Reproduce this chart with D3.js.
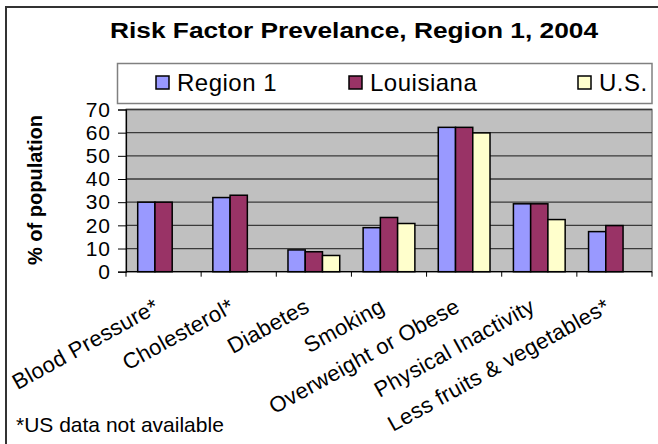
<!DOCTYPE html>
<html>
<head>
<meta charset="utf-8">
<script src="https://cdn.jsdelivr.net/npm/d3@7"></script>
<style>
  body { margin: 0; background: #fff; }
  text { font-family: "Liberation Sans", Arial, sans-serif; fill: #000; }
</style>
</head>
<body>
<div id="chart"></div>
<script>
// data
const categories = ["Blood Pressure*", "Cholesterol*", "Diabetes", "Smoking", "Overweight or Obese", "Physical Inactivity", "Less fruits & vegetables*"]
const series = ["Region 1", "Louisiana", "U.S."]
const region1 = [30, 32, 9.4, 19, 62.3, 29.3, 17.3]
const louisiana = [30, 33, 8.6, 23.4, 62.3, 29.3, 19.9]
const us = [null, null, 7, 20.8, 59.9, 22.5, null]
const yTicks = [0, 10, 20, 30, 40, 50, 60, 70]
const colors = ["#9999ff", "#993366", "#ffffcc"]

const width = 658
const height = 444
const plot = { left: 126, right: 652, top: 109.5, bottom: 271.7 }

const svg = d3.select("#chart")
    .append("svg")
    .attr("width", width)
    .attr("height", height)

// outer border (only top and left show)
svg.append("path")
    .attr("d", `M6,${height} V7 H${width}`)
    .attr("fill", "none")
    .attr("stroke", "#333")
    .attr("stroke-width", 2)

svg.append("text")
    .attr("x", 110)
    .attr("y", 37.5)
    .attr("font-weight", "bold")
    .attr("font-size", 22)
    .attr("textLength", 488)
    .attr("lengthAdjust", "spacingAndGlyphs")
    .text("Risk Factor Prevelance, Region 1, 2004")

const x0 = d3.scaleBand().domain(categories).range([plot.left, plot.right])
const x1 = d3.scaleBand().domain(series).range([11.7, x0.bandwidth() - 11.7])
const y = d3.scaleLinear().domain([0, 70]).range([plot.bottom, plot.top])

// plot area
svg.append("rect")
    .attr("x", plot.left)
    .attr("y", plot.top)
    .attr("width", plot.right - plot.left)
    .attr("height", plot.bottom - plot.top)
    .attr("fill", "#c0c0c0")
    .attr("stroke", "#808080")
    .attr("stroke-width", 1.5)

svg.append("g")
    .selectAll("line")
    .data(yTicks.slice(1))
    .enter()
    .append("line")
    .attr("x1", plot.left)
    .attr("x2", plot.right)
    .attr("y1", d => y(d))
    .attr("y2", d => y(d))
    .attr("stroke", "#3a3a3a")
    .attr("stroke-width", 1.3)

// bars
const rows = categories.map((c, i) => [region1[i], louisiana[i], us[i]])
svg.append("g")
    .selectAll("g")
    .data(rows)
    .enter()
    .append("g")
    .attr("transform", (d, i) => `translate(${x0(categories[i])},0)`)
    .selectAll("rect")
    .data(d => d.map((v, j) => ({ s: series[j], v: v, c: colors[j] })).filter(e => e.v != null))
    .enter()
    .append("rect")
    .attr("x", d => x1(d.s))
    .attr("width", x1.bandwidth())
    .attr("y", d => y(d.v))
    .attr("height", d => y(0) - y(d.v))
    .attr("fill", d => d.c)
    .attr("stroke", "#000")
    .attr("stroke-width", 1.5)

// y axis
const yAxis = svg.append("g")
    .attr("transform", `translate(${plot.left},0)`)
    .call(d3.axisLeft(y).tickValues(yTicks).tickSize(8).tickPadding(7))
yAxis.select(".domain").attr("stroke", "#000").attr("stroke-width", 1.2)
yAxis.selectAll(".tick line").attr("stroke", "#000")
yAxis.selectAll("text")
    .attr("font-size", 21)
    .attr("letter-spacing", 1)
    .attr("font-family", "Liberation Sans, Arial, sans-serif")
    .attr("fill", "#000")

svg.append("text")
    .attr("transform", "translate(42,190) rotate(-90)")
    .attr("text-anchor", "middle")
    .attr("font-weight", "bold")
    .attr("font-size", 20)
    .text("% of population")

// x axis
svg.append("line")
    .attr("x1", plot.left).attr("x2", plot.right)
    .attr("y1", plot.bottom).attr("y2", plot.bottom)
    .attr("stroke", "#000").attr("stroke-width", 1.2)
svg.append("g")
    .selectAll("line")
    .data(categories.concat(["end"]))
    .enter()
    .append("line")
    .attr("x1", (d, i) => plot.left + i * x0.bandwidth())
    .attr("x2", (d, i) => plot.left + i * x0.bandwidth())
    .attr("y1", plot.bottom)
    .attr("y2", plot.bottom + 5)
    .attr("stroke", "#000")

svg.append("g")
    .selectAll("text")
    .data(categories)
    .enter()
    .append("text")
    .attr("transform", d => `translate(${x0(d) + x0.bandwidth() / 2 - 3},311) rotate(-29)`)
    .attr("text-anchor", "end")
    .attr("font-size", 22)
    .attr("letter-spacing", 0.3)
    .text(d => d)

// legend
svg.append("rect")
    .attr("x", 117.5).attr("y", 63.5)
    .attr("width", 652 - 117.5).attr("height", 40)
    .attr("fill", "#fff")
    .attr("stroke", "#808080")
    .attr("stroke-width", 1.5)
const legend = svg.append("g")
const legendX = [156, 349, 578]
series.forEach((s, i) => {
    legend.append("rect")
        .attr("x", legendX[i]).attr("y", 76)
        .attr("width", 13).attr("height", 13)
        .attr("fill", colors[i])
        .attr("stroke", "#000")
        .attr("stroke-width", 1.5)
    legend.append("text")
        .attr("x", legendX[i] + 21)
        .attr("y", 90.5)
        .attr("font-size", 24)
        .attr("letter-spacing", 0.5)
        .text(s)
})

svg.append("text")
    .attr("x", 16)
    .attr("y", 432)
    .attr("font-size", 21)
    .text("*US data not available")
</script>
</body>
</html>
